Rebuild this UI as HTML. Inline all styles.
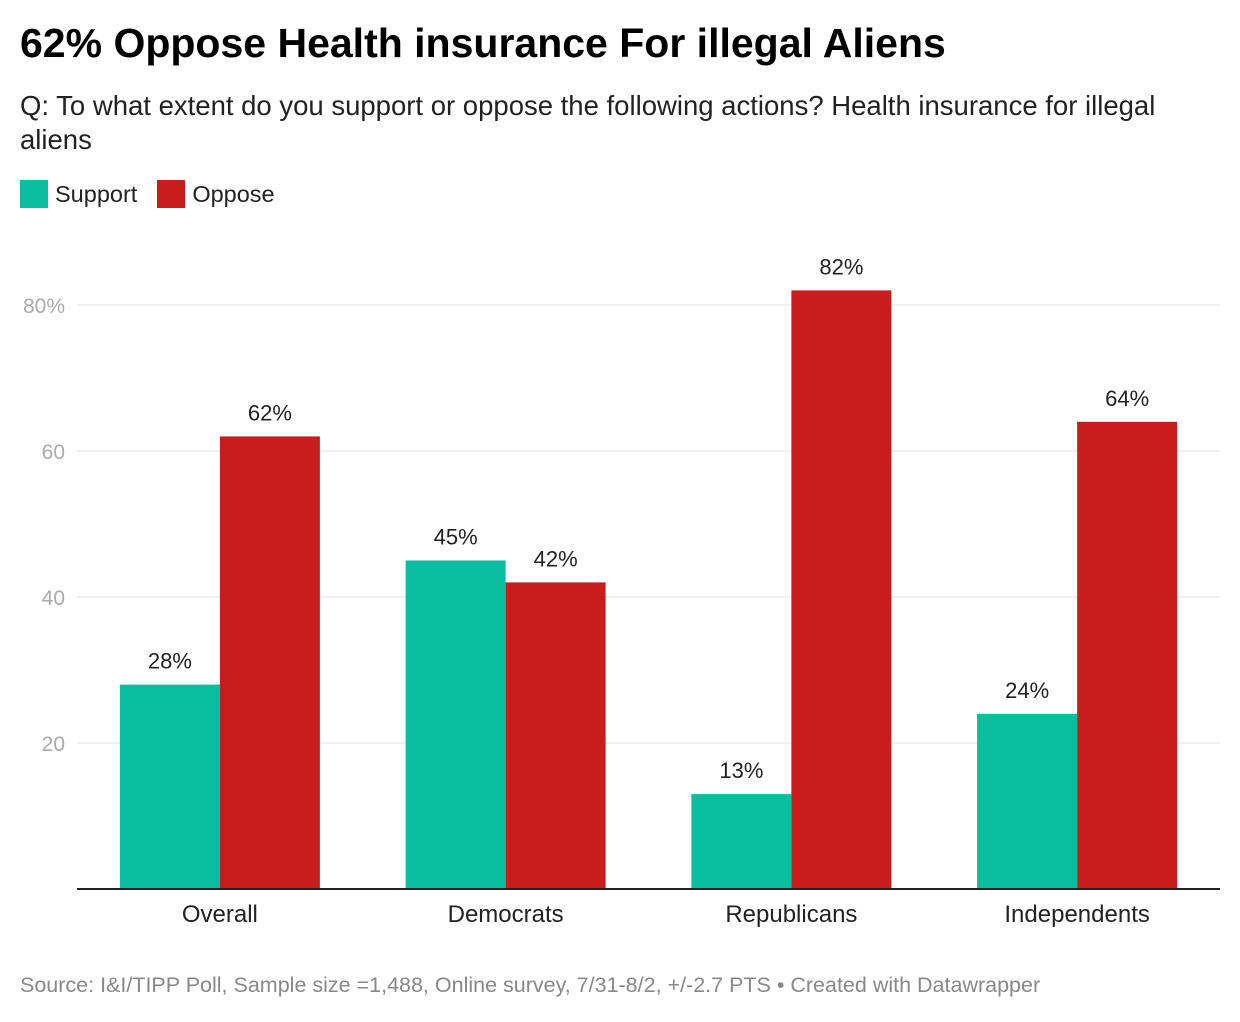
<!DOCTYPE html>
<html><head><meta charset="utf-8">
<style>
body{margin:0;background:#fff;width:1240px;height:1022px;overflow:hidden;font-family:"Liberation Sans",Arial,sans-serif;}
#title{position:absolute;left:20px;top:20px;font-size:41px;font-weight:bold;color:#000;margin:0;}
#sub{position:absolute;left:20px;top:89px;font-size:27.5px;color:#222;line-height:34px;width:1190px;}
#legend{position:absolute;left:20px;top:180px;font-size:23.5px;color:#222;display:flex;align-items:center;}
.sw{display:inline-block;width:28px;height:28px;margin-right:7px;}
#src{position:absolute;left:20px;top:973px;font-size:21.5px;color:#888;}
svg{position:absolute;left:0;top:0;}
</style></head><body>
<h1 id="title">62% Oppose Health insurance For illegal Aliens</h1>
<div id="sub">Q: To what extent do you support or oppose the following actions? Health insurance for illegal aliens</div>
<div id="legend">
<span class="sw" style="background:#0bbd9f"></span><span style="margin-right:20px">Support</span>
<span class="sw" style="background:#c71e1d"></span><span>Oppose</span>
</div>
<svg id="chart" width="1240" height="1022"></svg>
<div id="src">Source: I&amp;I/TIPP Poll, Sample size =1,488, Online survey, 7/31-8/2, +/-2.7 PTS • Created with Datawrapper</div>
<script>
const categories=["Overall","Democrats","Republicans","Independents"];
const support=[28,45,13,24];
const oppose=[62,42,82,64];
const ticks=[20,40,60,80];
const tickLabels=["20","40","60","80%"];
const svg=document.getElementById('chart');
const NS='http://www.w3.org/2000/svg';
const x0=77,x1=1220,yBase=889,yTop=305,vTop=80;
const y=v=>yBase-(v/vTop)*(yBase-yTop);
const gw=(x1-x0)/categories.length;
const cx=i=>x0+gw*(i+0.5);
const bw=100;
function mk(t,a){const e=document.createElementNS(NS,t);for(const k in a)e.setAttribute(k,a[k]);svg.appendChild(e);return e;}
ticks.forEach((t,i)=>{
 const l=mk('line',{x1:x0,x2:x1,y1:y(t),y2:y(t),stroke:'#e0e0e0','stroke-width':1});
 
 
 const tx=mk('text',{x:65,y:y(t)+8,'text-anchor':'end','font-size':21,fill:'#aaa','font-family':'Liberation Sans, sans-serif'});
 tx.textContent=tickLabels[i];
 
 
});
categories.forEach((c,i)=>{
 [[support[i],'#0bbd9f',-bw,'support'],[oppose[i],'#c71e1d',0,'oppose']].forEach(([v,col,off,nm])=>{
  const r=mk('rect',{x:cx(i)+off,y:y(v),width:bw,height:yBase-y(v),fill:col});
  
  
  const t=mk('text',{x:cx(i)+off+bw/2,y:y(v)-16,'text-anchor':'middle','font-size':22,fill:'#222','font-family':'Liberation Sans, sans-serif'});
  t.textContent=v+'%';
  
  
 });
 const t=mk('text',{x:cx(i),y:922,'text-anchor':'middle','font-size':24,fill:'#222','font-family':'Liberation Sans, sans-serif'});
 t.textContent=c;
 
 
});
const ax=mk('line',{x1:x0,x2:x1,y1:yBase,y2:yBase,stroke:'#222','stroke-width':2});


</script>
</body></html>
